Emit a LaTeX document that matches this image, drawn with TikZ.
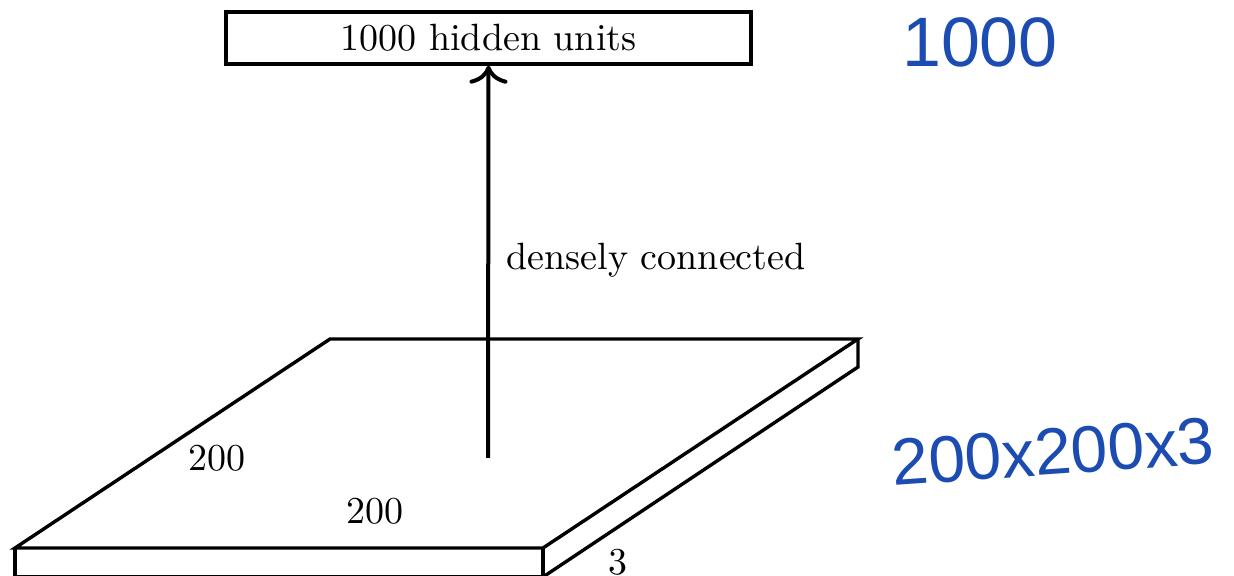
\documentclass[tikz,border=0pt]{standalone}
\usepackage{fontspec}
\newfontfamily\handfont{Liberation Sans}
\usetikzlibrary{arrows.meta}
\definecolor{ink}{RGB}{28,76,178}
\begin{document}
\begin{tikzpicture}[x=0.25pt,y=-0.25pt,line width=0.85pt,
  lbl/.style={font=\fontsize{9.5}{11}\selectfont,inner sep=0pt},
  hand/.style={text=ink,font=\handfont\fontsize{17.5}{19}\selectfont,inner sep=0pt},
  layerbox/.style={draw,inner sep=0pt,minimum width=131.25pt,minimum height=13pt,font=\fontsize{9.5}{11}\selectfont}]
\useasboundingbox (0,0) rectangle (1234,576);
\node[layerbox] (hidden) at (488.5,38) {1000 hidden units};
\coordinate (A) at (15,548);
\coordinate (B) at (543,548);
\coordinate (C) at (858,339);
\coordinate (D) at (330,339);
\coordinate (C2) at (858,367);
\coordinate (B2) at (543,577);
\coordinate (A2) at (15,577);
\draw (A) -- (D) -- (C) -- (B) -- cycle;
\draw (A) -- (A2) -- (B2) -- (B);
\draw (C) -- (C2) -- (B2);
\coordinate (src) at (488,458);
\draw[line width=1pt,-{Computer Modern Rightarrow[length=4.5pt,width=9.5pt]}] (src) -- (hidden.south);
\node[lbl,anchor=west] (dc) at (505,260) {densely connected};
\node[lbl] (w1) at (217,458) {200};
\node[lbl] (w2) at (375,511) {200};
\node[lbl] (d3) at (618,562) {3};
\node[hand] (h1) at (980,42) {1000};
\node[hand,font=\handfont\fontsize{16.5}{18}\selectfont,rotate=4] (h2) at (1053,452) {200x200x3};
\end{tikzpicture}
\end{document}
